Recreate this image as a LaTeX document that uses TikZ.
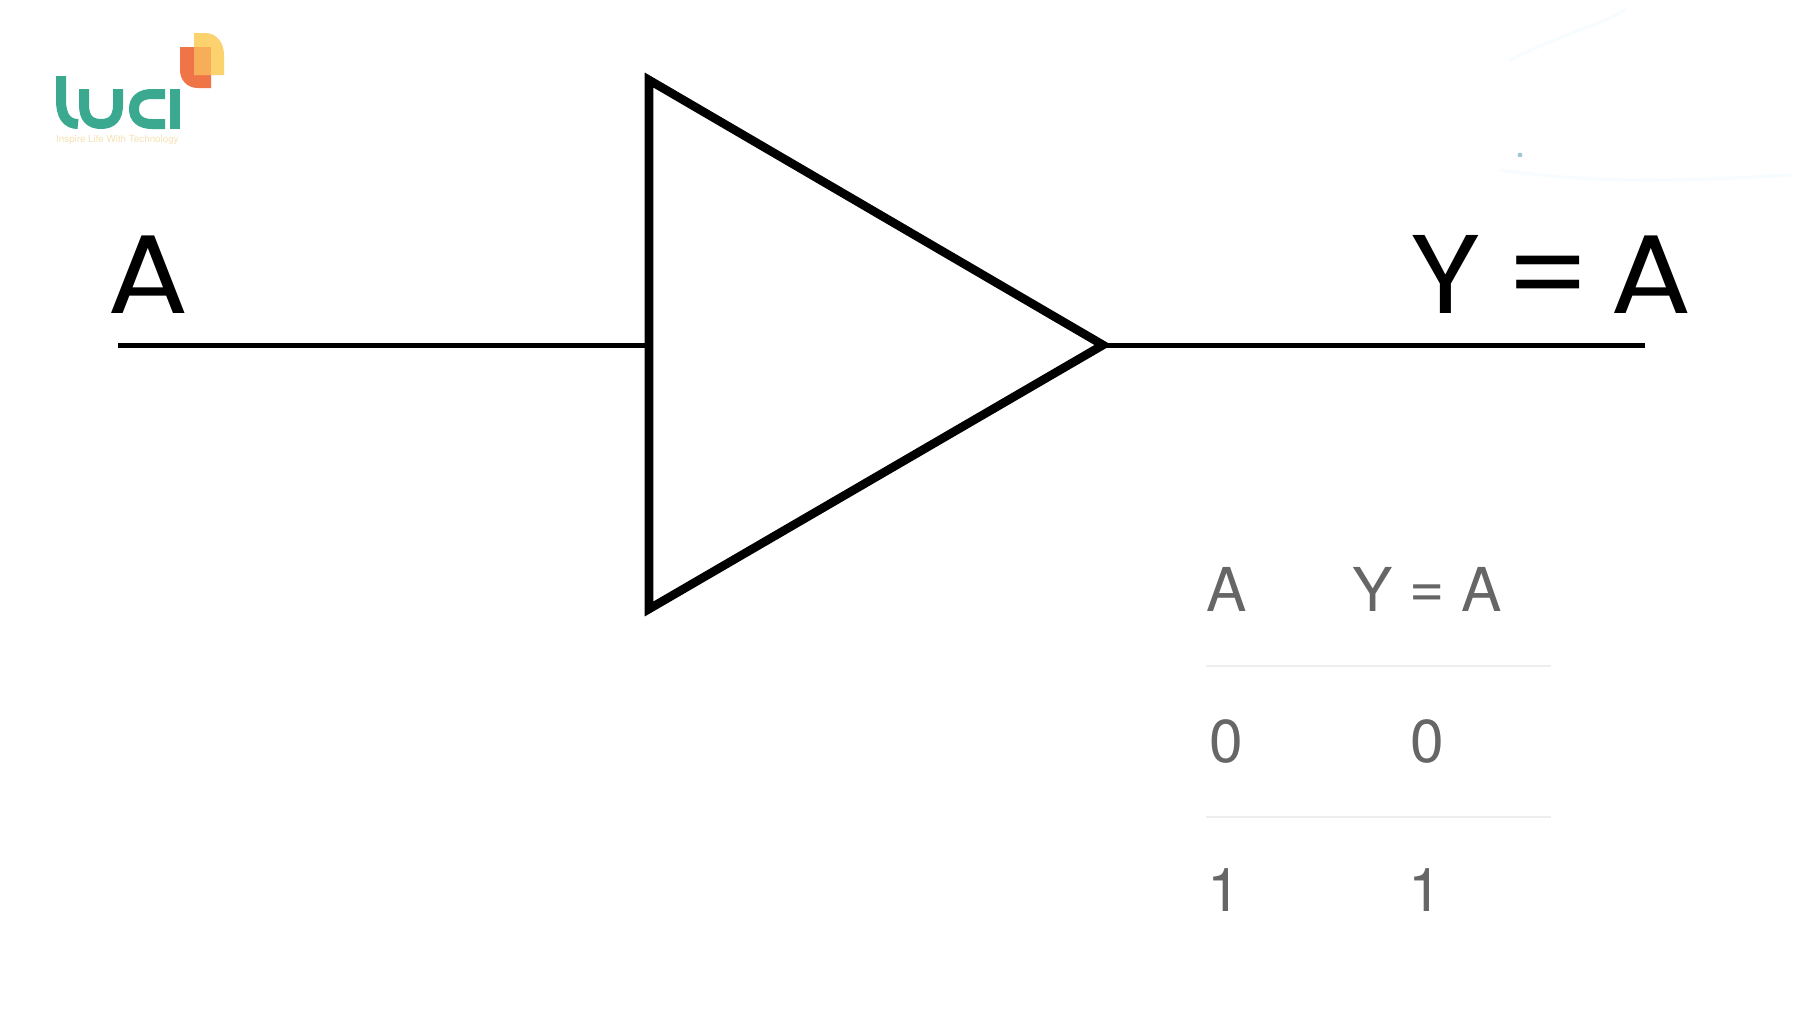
\documentclass[tikz,border=0pt]{standalone}
\usepackage{fontspec}
\setmainfont{TeX Gyre Heros}
\newfontfamily\bigfont[FakeStretch=1.08]{Poppins}
\definecolor{tealL}{HTML}{3AA98F}
\definecolor{orangeL}{HTML}{EF7549}
\definecolor{yellowL}{HTML}{FCD26F}
\definecolor{mixL}{HTML}{F8AE58}
\definecolor{taglineL}{HTML}{F6E3B4}
\definecolor{tabletext}{HTML}{666666}
\definecolor{tablerule}{HTML}{EEEEEE}
\tikzset{
  wire/.style={line width=5pt,black},
  gate/.style={line width=8.6pt,black,fill=white,miter limit=10},
  biglabel/.style={anchor=base west,inner sep=0pt,text=black,font=\bigfont\fontsize{112}{112}\selectfont},
  cell/.style={anchor=base,inner sep=0pt,text=tabletext,font=\fontsize{60.5}{60.5}\selectfont},
  tablesep/.style={line width=2pt,tablerule},
  logoline/.style={line width=10pt,tealL}
}
\begin{document}
\begin{tikzpicture}[x=1pt,y=-1pt]
\useasboundingbox (0,0) rectangle (1800,1013);
\fill[white] (0,0) rectangle (1800,1013);
% faint background marks, top right
\draw[line width=3pt,white!97!cyan,line cap=round] (1510,60) .. controls (1560,35) and (1600,25) .. (1625,10);
\draw[line width=3pt,white!97!cyan,line cap=round] (1500,170) .. controls (1600,185) and (1700,180) .. (1790,175);
\fill[gray!60!cyan!60!white] (1520,155) circle (2.4);
% connectors
\coordinate (inL) at (118,345);
\coordinate (inR) at (649,345);
\coordinate (outL) at (1103,345);
\coordinate (outR) at (1645,345);
\draw[wire] (inL) -- (inR);
\draw[wire] (outL) -- (outR);
% buffer gate
\coordinate (gTop) at (649,80);
\coordinate (gBot) at (649,609);
\coordinate (gTip) at (1103,345);
\draw[gate] (gTop) -- (gTip) -- (gBot) -- cycle;
% big labels
\node[biglabel] (labA) at (107,313) {A};
\node[biglabel] (labY) at (1410,313) {Y\hspace{24pt}=\hspace{18pt}A};
% truth table
\node[cell] (hA) at (1226.5,611) {A};
\node[cell] (hY) at (1427.5,611) {Y \raisebox{4pt}{=} A};
\node[cell] (r1a) at (1226,762) {0};
\node[cell] (r1b) at (1427.5,762) {0};
\node[cell] (r2a) at (1224,911) {1};
\node[cell] (r2b) at (1425.5,911) {1};
\coordinate (s1L) at (1206,666);
\coordinate (s1R) at (1551,666);
\coordinate (s2L) at (1206,817);
\coordinate (s2R) at (1551,817);
\draw[tablesep] (s1L) -- (s1R);
\draw[tablesep] (s2L) -- (s2R);
% logo
\fill[orangeL] (180,47) -- (211,47) -- (211,88) -- (198,88) .. controls (187,88) and (180,80) .. (180,70) -- cycle;
\fill[yellowL] (194,33) -- (205,33) .. controls (217,33) and (224,43) .. (224,55) -- (224,75) -- (194,75) -- cycle;
\fill[mixL] (194,47) -- (211,47) -- (211,75) -- (194,75) -- cycle;
\draw[logoline] (61,76) -- (61,100) .. controls (61,116) and (67,124) .. (78,124);
\draw[logoline] (84,89) -- (84,105) .. controls (84,118) and (90,124) .. (101,124) .. controls (112,124) and (118,118) .. (118,105) -- (118,89);
\draw[logoline] (165,94) -- (152,94) .. controls (140,94) and (134,100) .. (134,109) .. controls (134,118) and (140,124) .. (152,124) -- (165,124);
\draw[logoline] (175,89) -- (175,129);
\node[anchor=base west,inner sep=0pt,text=taglineL,font=\fontsize{9.8}{9.8}\selectfont] (tag) at (56,142) {Inspire Life With Technology};
\end{tikzpicture}
\end{document}
